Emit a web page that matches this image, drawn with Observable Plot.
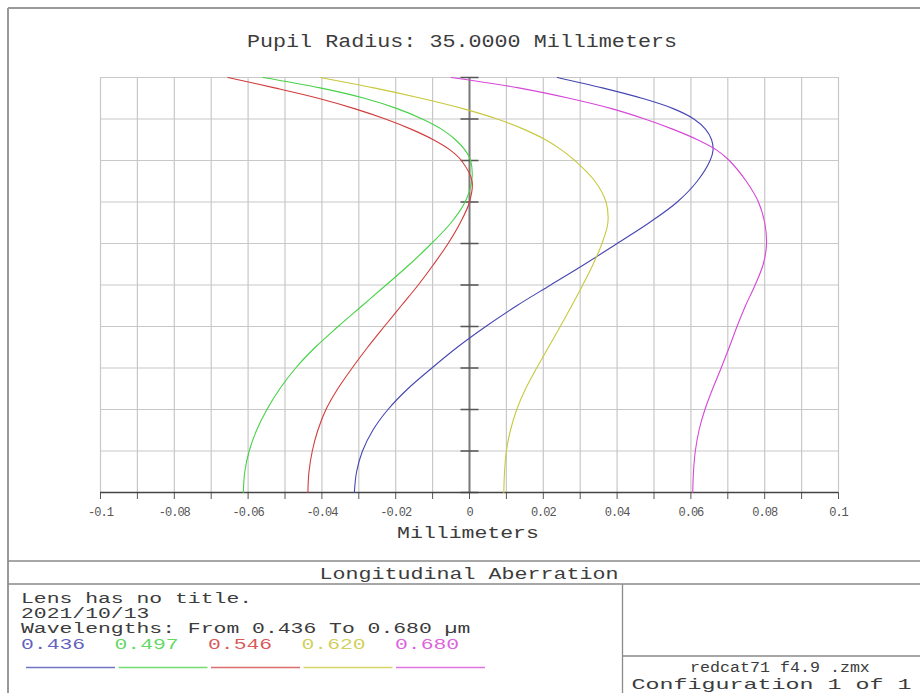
<!DOCTYPE html>
<html>
<head>
<meta charset="utf-8">
<script src="https://cdn.jsdelivr.net/npm/d3@7"></script>
<script src="https://cdn.jsdelivr.net/npm/@observablehq/plot@0.6"></script>
<style>
  html, body { margin: 0; padding: 0; background: white; }
  #chart { width: 920px; height: 693px; overflow: hidden; }
</style>
</head>
<body>
<div id="chart"></div>
<script>
// ---- data ----
const wavelengths = ["0.436", "0.497", "0.546", "0.620", "0.680"];
const colors = ["#4646b4", "#46d246", "#d23c3c", "#c8c83c", "#d746d7"];
const pupil = [0, 0.05, 0.1, 0.15, 0.2, 0.25, 0.3, 0.35, 0.4, 0.45, 0.5, 0.55, 0.6, 0.65, 0.7, 0.75, 0.8, 0.825, 0.85, 0.875, 0.9, 0.925, 0.95, 0.975, 1.0];
const ab436 = [-0.0312, -0.0306, -0.0290, -0.0262, -0.0221, -0.0167, -0.0102, -0.0033, 0.0044, 0.0128, 0.0220, 0.0312, 0.0400, 0.0487, 0.0563, 0.0617, 0.0652, 0.0660, 0.0656, 0.0640, 0.0608, 0.0552, 0.0467, 0.0360, 0.0238];
const ab497 = [-0.0613, -0.0609, -0.0597, -0.0577, -0.0549, -0.0514, -0.0471, -0.0418, -0.0356, -0.0291, -0.0226, -0.0162, -0.0103, -0.0050, -0.0012, 0.0006, 0.0003, -0.0012, -0.0038, -0.0075, -0.0128, -0.0196, -0.0285, -0.0405, -0.0560];
const ab546 = [-0.0438, -0.0435, -0.0426, -0.0411, -0.0389, -0.0357, -0.0318, -0.0276, -0.0231, -0.0185, -0.0139, -0.0097, -0.0058, -0.0025, 0.0000, 0.0007, -0.0022, -0.0052, -0.0098, -0.0157, -0.0228, -0.0312, -0.0410, -0.0528, -0.0655];
const ab620 = [0.0093, 0.0095, 0.0100, 0.0111, 0.0128, 0.0152, 0.0182, 0.0214, 0.0246, 0.0277, 0.0307, 0.0335, 0.0359, 0.0375, 0.0370, 0.0340, 0.0285, 0.0250, 0.0206, 0.0148, 0.0075, -0.0018, -0.0131, -0.0259, -0.0404];
const ab680 = [0.0605, 0.0607, 0.0612, 0.0622, 0.0638, 0.0659, 0.0682, 0.0704, 0.0725, 0.0748, 0.0774, 0.0796, 0.0805, 0.0800, 0.0783, 0.0750, 0.0704, 0.0670, 0.0618, 0.0552, 0.0475, 0.0385, 0.0270, 0.0133, -0.0050];
const xTickValues = [-0.1, -0.09, -0.08, -0.07, -0.06, -0.05, -0.04, -0.03, -0.02, -0.01, 0, 0.01, 0.02, 0.03, 0.04, 0.05, 0.06, 0.07, 0.08, 0.09, 0.1];
const xLabelValues = [-0.1, -0.08, -0.06, -0.04, -0.02, 0, 0.02, 0.04, 0.06, 0.08, 0.1];
const xLabels = ["-0.1", "-0.08", "-0.06", "-0.04", "-0.02", "0", "0.02", "0.04", "0.06", "0.08", "0.1"];
const yGridValues = [0, 0.1, 0.2, 0.3, 0.4, 0.5, 0.6, 0.7, 0.8, 0.9, 1.0];

const titleText = "Pupil Radius: 35.0000 Millimeters";
const xAxisLabel = "Millimeters";
const plotName = "Longitudinal Aberration";
const infoLines = ["Lens has no title.", "2021/10/13", "Wavelengths: From 0.436 To 0.680 µm"];
const fileName = "redcat71 f4.9 .zmx";
const configText = "Configuration 1 of 1";

// ---- build table ----
const series = [ab436, ab497, ab546, ab620, ab680];
const rows = [];
series.forEach((s, i) => pupil.forEach((p, j) => rows.push({wl: wavelengths[i], pupil: p, ab: s[j]})));
const labelMap = new Map(xLabelValues.map((v, i) => [v, xLabels[i]]));

const hTick = {
  draw(ctx, size) {
    const h = Math.sqrt(size / Math.PI);
    ctx.moveTo(-h, 0);
    ctx.lineTo(h, 0);
  }
};

const svg = Plot.plot({
  width: 920,
  height: 693,
  marginLeft: 100,
  marginRight: 82,
  marginTop: 77,
  marginBottom: 201,
  style: {background: "white", color: "#555", fontFamily: "'Liberation Mono', monospace", fontSize: "12px"},
  x: {domain: [-0.1, 0.1], ticks: xTickValues, tickSize: 7, tickPadding: 8, tickFormat: d => labelMap.get(d) ?? "", label: null},
  y: {domain: [0, 1], axis: null},
  color: {domain: wavelengths, range: colors},
  marks: [
    Plot.ruleX(xTickValues, {stroke: "#c8c8c8", strokeWidth: 1.2}),
    Plot.ruleY(yGridValues, {stroke: "#c8c8c8", strokeWidth: 1.2}),
    Plot.ruleX([0], {stroke: "#7a7a7a", strokeWidth: 2}),
    Plot.dot(yGridValues, {x: () => 0, y: d => d, r: 9, symbol: hTick, stroke: "#555", strokeWidth: 1.5, fill: "none"}),
    Plot.ruleY([0], {stroke: "#444", strokeWidth: 1.5}),
    Plot.line(rows, {x: "ab", y: "pupil", z: "wl", stroke: "wl", strokeWidth: 1.1, curve: "catmull-rom"})
  ]
});

const root = d3.select(svg);
root.selectAll("text").attr("letter-spacing", "-1px").attr("fill", "#555");

// ---- page decoration (frame, boxes, texts) ----
const g = root.append("g");
const line = (x1, y1, x2, y2, stroke, w) =>
  g.append("line").attr("x1", x1).attr("y1", y1).attr("x2", x2).attr("y2", y2)
    .attr("stroke", stroke).attr("stroke-width", w);
line(8, 8, 920, 8, "#9a9a9a", 2);
line(8, 8, 8, 693, "#9a9a9a", 2);
line(8, 561, 920, 561, "#8a8a8a", 1.3);
line(8, 584, 920, 584, "#8a8a8a", 1.3);
line(622.5, 584, 622.5, 693, "#8a8a8a", 1.3);
line(622.5, 656, 920, 656, "#8a8a8a", 1.3);

// text drawn with Liberation Mono, stretched horizontally to the reference's character width
const text = (str, x, y, size, charW, anchor, fill) => {
  const sx = charW / (0.6 * size);
  return g.append("text").text(str)
    .attr("transform", `translate(${x},${y}) scale(${sx.toFixed(3)},1)`)
    .attr("font-family", "'Liberation Mono', monospace")
    .attr("font-size", size)
    .attr("text-anchor", anchor)
    .attr("fill", fill || "#3c3c3c");
};

text(titleText, 462, 47, 17.5, 13.03, "middle");
text(xAxisLabel, 468, 538, 16.7, 12.9, "middle");
text(plotName, 469, 579, 16.7, 13.0, "middle");
infoLines.forEach((s, i) => text(s, 21, 603 + i * 15, 14.5, 12.85, "start"));
wavelengths.forEach((w, i) => {
  text(w, 21 + i * 93.5, 649, 14.5, 12.85, "start", colors[i]).attr("fill-opacity", 0.85);
  line(26 + i * 92.5, 667.5, 115 + i * 92.5, 667.5, colors[i], 1.6).attr("stroke-opacity", 0.75);
});
text(fileName, 690, 672, 14.5, 10.0, "start");
text(configText, 631.5, 688.5, 14, 14.0, "start");

document.getElementById("chart").appendChild(svg);
</script>
</body>
</html>
